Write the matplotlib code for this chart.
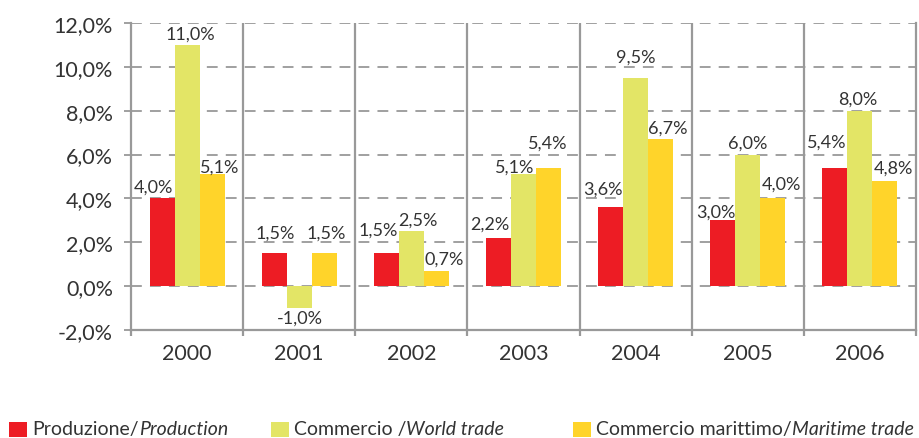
import numpy as np
import matplotlib.pyplot as plt
from matplotlib.patches import Rectangle

plt.rcParams['font.family'] = ['Lato', 'DejaVu Sans']

# --- data ---
years = ["2000", "2001", "2002", "2003", "2004", "2005", "2006"]
produzione = [4.0, 1.5, 1.5, 2.2, 3.6, 3.0, 5.4]
commercio = [11.0, -1.0, 2.5, 5.1, 9.5, 6.0, 8.0]
marittimo = [5.1, 1.5, 0.7, 5.4, 6.7, 4.0, 4.8]
yticks = [-2, 0, 2, 4, 6, 8, 10, 12]

legend_main = ["Produzione/", "Commercio /", "Commercio marittimo/"]
legend_ital = ["Production", "World trade", "Maritime trade"]

colors = ["#ED1C24", "#E3E566", "#FFD42A"]
TXT = "#333333"
GRID = "#999999"

# label nudges in pixels (dx, dy of label centre from bar end)
nudge = [
    [(-9, 12), (3, 11), (8, 8)],
    [(1, 21), (1, -10), (2, 21)],
    [(-8, 24), (7, 12), (8, 12)],
    [(-9, 14), (-9, 8), (-1, 25)],
    [(-8, 19), (0, 21), (7, 12)],
    [(-7, 9), (0, 12), (9, 15)],
    [(-8, 26), (-2, 12), (8, 13)],
]

fig = plt.figure(figsize=(9.2, 4.39), dpi=100)
ax = fig.add_axes([0.1424, 0.246, 0.8533, 0.6993])

x = np.arange(len(years))
w = 0.223
series = [produzione, commercio, marittimo]
for i, (vals, c) in enumerate(zip(series, colors)):
    bars = ax.bar(x + (i - 1) * w, vals, w, color=c, zorder=3, linewidth=0)
    for j, (b, v) in enumerate(zip(bars, vals)):
        dx, dy = nudge[j][i]
        ax.annotate(f"{v:.1f}%".replace(".", ","),
                    (b.get_x() + b.get_width() / 2, v),
                    xytext=(dx, dy), textcoords="offset pixels",
                    ha="center", va="center", fontsize=13, color=TXT,
                    zorder=4)

ax.set_xlim(-0.5, len(years) - 0.5)
ax.set_ylim(-2, 12)
ax.set_yticks(yticks)
ax.set_yticklabels([f"{t:.1f}%".replace(".", ",") for t in yticks])
ax.set_xticks(x)
ax.set_xticklabels(years)
ax.set_xticks(np.arange(len(years) + 1) - 0.5, minor=True)

for t in yticks[1:]:
    ax.axhline(t, color=GRID, lw=1.3, ls=(0, (6, 4.5)), zorder=1)
for b in np.arange(1, len(years)) - 0.5:
    ax.axvline(b, color=GRID, lw=1.6, zorder=2)

for s in ["left", "bottom", "right"]:
    ax.spines[s].set_color(GRID)
    ax.spines[s].set_linewidth(1.6)
ax.spines["top"].set_visible(False)

ax.tick_params(axis="y", length=5, width=1.3, color=GRID, labelsize=15.5,
               labelcolor=TXT, pad=8)
ax.tick_params(axis="x", which="major", length=0, labelsize=15.5,
               labelcolor=TXT, pad=9)
ax.tick_params(axis="x", which="minor", length=4, width=1.6, color=GRID)

# legend drawn by hand (mixed upright / italic text)
lx = [9, 271, 573]
fig.canvas.draw()
r = fig.canvas.get_renderer()
for k in range(3):
    fig.patches.append(Rectangle((lx[k] / 920, 1 / 439), 18 / 920, 15 / 439,
                                 transform=fig.transFigure, color=colors[k],
                                 linewidth=0))
    t1 = fig.text((lx[k] + 23) / 920, 9 / 439, legend_main[k],
                  fontsize=14, color=TXT, va="center")
    bb = t1.get_window_extent(renderer=r)
    fig.text(bb.x1 / 920, 9 / 439, legend_ital[k], fontsize=14,
             color=TXT, va="center", style="italic")

fig.savefig("out.png", dpi=100)
